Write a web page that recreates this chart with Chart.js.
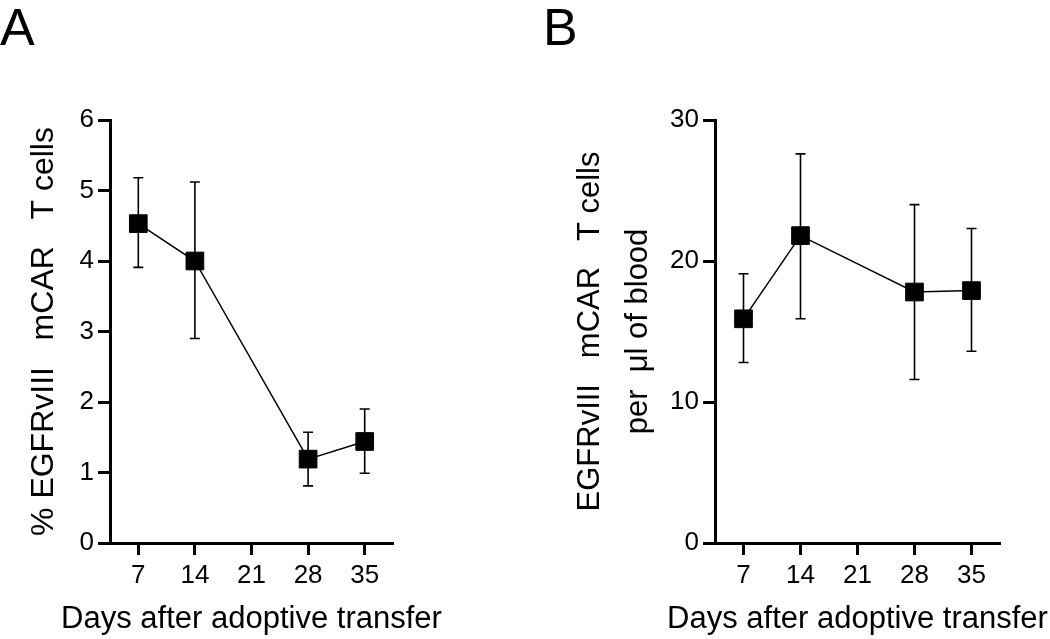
<!DOCTYPE html>
<html>
<head>
<meta charset="utf-8">
<script src="https://cdn.jsdelivr.net/npm/chart.js@4"></script>
<style>
  body { margin: 0; background: #fff; width: 1050px; height: 639px; position: relative; overflow: hidden; }
  .panel { position: absolute; top: 0; width: 525px; height: 639px; }
  .tag { position: absolute; top: 1px; font: 52px 'Liberation Sans', Arial, sans-serif; line-height: 1; color: #000; }
</style>
</head>
<body>
<div class="panel" style="left:0"><canvas id="chart-a" width="525" height="639"></canvas></div>
<div class="panel" style="left:525px"><canvas id="chart-b" width="525" height="639"></canvas></div>
<div class="tag" style="left:0">A</div>
<div class="tag" style="left:543px">B</div>
<script>
// dados
const days = [7, 14, 28, 35];
const dayTicks = [7, 14, 21, 28, 35];

// painel A: % de células
const pctMean = [4.53, 4.00, 1.19, 1.44];
const pctHigh = [5.18, 5.12, 1.57, 1.90];
const pctLow = [3.91, 2.90, 0.81, 0.99];

// painel B: células por ul de sangue
const bloodMean = [15.9, 21.8, 17.8, 17.9];
const bloodHigh = [19.1, 27.6, 24.0, 22.3];
const bloodLow = [12.8, 15.9, 11.6, 13.6];

const FONT = "'Liberation Sans', Arial, sans-serif";
const X_TITLE = 'Days after adoptive transfer';

// barras de erro desenhadas com as escalas do próprio gráfico
const errorBars = {
  id: 'errorBars',
  beforeDatasetsDraw(chart) {
    const ctx = chart.ctx;
    const x = chart.scales.x;
    const y = chart.scales.y;
    chart.data.datasets.forEach(ds => {
      ctx.save();
      ctx.strokeStyle = '#000';
      ctx.lineWidth = 1.6;
      ds.data.forEach((p, i) => {
        const px = x.getPixelForValue(p.x);
        const top = y.getPixelForValue(ds.errHigh[i]);
        const bot = y.getPixelForValue(ds.errLow[i]);
        ctx.beginPath();
        ctx.moveTo(px, top); ctx.lineTo(px, bot);
        ctx.moveTo(px - 5, top); ctx.lineTo(px + 5, top);
        ctx.moveTo(px - 5, bot); ctx.lineTo(px + 5, bot);
        ctx.stroke();
      });
      ctx.restore();
    });
  }
};

// títulos dos eixos sem o maxWidth que o Chart.js aplica (ele espreme o texto)
const axisTitles = {
  id: 'axisTitles',
  afterDraw(chart, args, opts) {
    const ctx = chart.ctx;
    const area = chart.chartArea;
    ctx.save();
    ctx.fillStyle = '#000';
    ctx.textBaseline = 'middle';
    ctx.textAlign = 'center';
    ctx.font = '31px ' + FONT;
    ctx.fillText(X_TITLE, (area.left + area.right) / 2, opts.xTitleY);
    ctx.font = opts.ySize + 'px ' + FONT;
    const cy = (area.top + area.bottom) / 2;
    opts.yLines.forEach((line, i) => {
      ctx.save();
      ctx.translate(opts.yTitleX[i], cy);
      ctx.rotate(-Math.PI / 2);
      ctx.fillText(line, 0, 0);
      ctx.restore();
    });
    ctx.restore();
  }
};

function makeChart(el, mean, low, high, yMax, yStep, yLines, yTitleX, ySize, yWidth, padRight) {
  return new Chart(el, {
    type: 'line',
    data: {
      datasets: [{
        data: days.map((d, i) => ({ x: d, y: mean[i] })),
        errLow: low,
        errHigh: high,
        borderColor: '#000',
        borderWidth: 1.5,
        pointStyle: 'rect',
        pointRadius: 12.5,
        pointBackgroundColor: '#000',
        pointBorderColor: '#000',
        pointBorderWidth: 1,
        tension: 0,
        clip: false
      }]
    },
    options: {
      responsive: false,
      animation: false,
      layout: { padding: { top: 120, right: padRight, bottom: 0, left: 0 } },
      plugins: {
        legend: { display: false },
        tooltip: { enabled: false },
        axisTitles: { xTitleY: 619, yLines: yLines, yTitleX: yTitleX, ySize: ySize }
      },
      scales: {
        x: {
          type: 'linear',
          min: 3.5,
          max: 38.5,
          afterBuildTicks: s => { s.ticks = dayTicks.map(v => ({ value: v })); },
          afterFit: s => { s.height = 96; },
          border: { display: true, color: '#000', width: 3 },
          grid: { drawOnChartArea: false, drawTicks: true, tickLength: 12, tickWidth: 3, tickColor: '#000' },
          ticks: { color: '#000', font: { family: FONT, size: 26 }, padding: 5, maxRotation: 0 }
        },
        y: {
          min: 0,
          max: yMax,
          afterFit: s => { s.width = yWidth; },
          border: { display: true, color: '#000', width: 3 },
          grid: { drawOnChartArea: false, drawTicks: true, tickLength: 12, tickWidth: 3, tickColor: '#000' },
          ticks: { stepSize: yStep, color: '#000', font: { family: FONT, size: 26 }, padding: 4 }
        }
      }
    },
    plugins: [errorBars, axisTitles]
  });
}

makeChart(document.getElementById('chart-a'), pctMean, pctLow, pctHigh, 6, 1,
  ['% EGFRvIII   mCAR   T cells'], [44], 32, 110, 132);

makeChart(document.getElementById('chart-b'), bloodMean, bloodLow, bloodHigh, 30, 10,
  ['EGFRvIII   mCAR   T cells', 'per  μl of blood'], [65, 113], 31, 190, 50);
</script>
</body>
</html>
